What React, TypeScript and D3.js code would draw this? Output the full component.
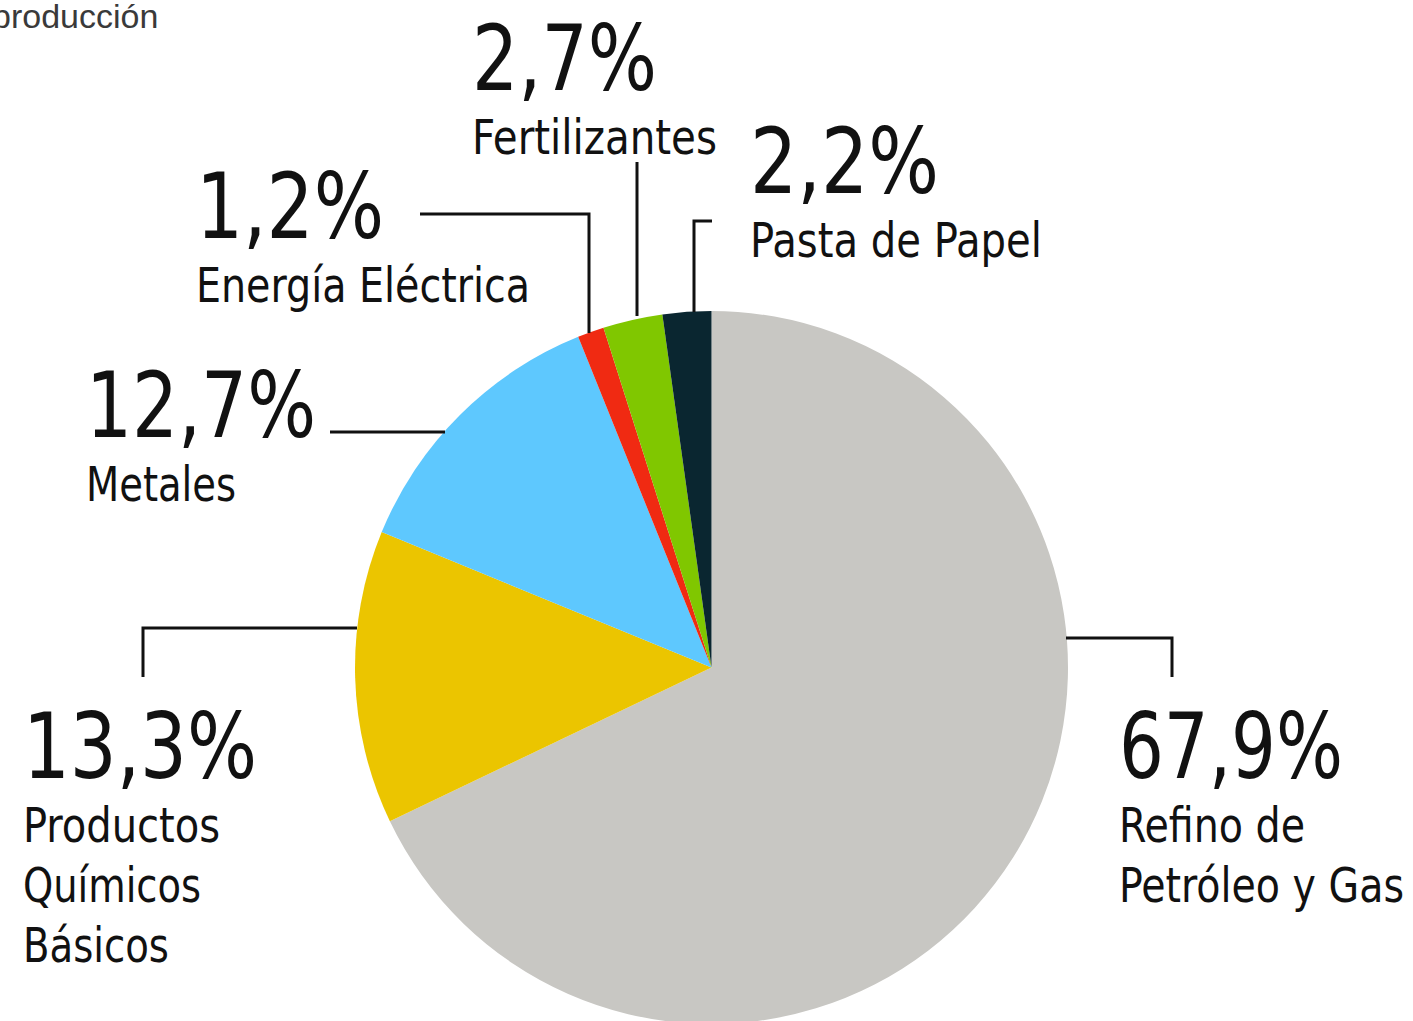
import React from "react";
import * as d3 from "d3";

const categories = [
  "Refino de Petróleo y Gas",
  "Productos Químicos Básicos",
  "Metales",
  "Energía Eléctrica",
  "Fertilizantes",
  "Pasta de Papel",
];
const values = [67.9, 13.3, 12.7, 1.2, 2.7, 2.2];
const percentLabels = ["67,9%", "13,3%", "12,7%", "1,2%", "2,7%", "2,2%"];
const nameLines = [
  ["Refino de", "Petróleo y Gas"],
  ["Productos", "Químicos", "Básicos"],
  ["Metales"],
  ["Energía Eléctrica"],
  ["Fertilizantes"],
  ["Pasta de Papel"],
];
const colors = ["#c8c7c3", "#ebc500", "#5ec8fe", "#f02a12", "#80c700", "#0a2630"];

// layout (positions of label blocks and leader lines)
const layout = [
  { x: 1119, y: 778, pctW: 224, nameW: [186, 285], leader: [[1066, 638], [1172, 638], [1172, 677]] },
  { x: 23, y: 778, pctW: 234, nameW: [197, 178, 146], leader: [[357, 628], [143, 628], [143, 677]] },
  { x: 86, y: 437, pctW: 230, nameW: [150], leader: [[445, 432], [330, 432]] },
  { x: 196, y: 238, pctW: 188, nameW: [334], leader: [[589, 333], [589, 214], [420, 214]] },
  { x: 472, y: 90, pctW: 185, nameW: [245], leader: [[637, 316], [637, 162]] },
  { x: 750, y: 193, pctW: 189, nameW: [292], leader: [[694, 312], [694, 221], [712, 221]] },
];

const FONT = "'DejaVu Sans Condensed', 'DejaVu Sans', sans-serif";

export default function App() {
  const W = 1413;
  const H = 1021;
  const cx = 711.5;
  const cy = 667.5;
  const r = 356.5;

  const pie = d3.pie<number>().sort(null).value((d) => d)(values);
  const arc = d3.arc<d3.PieArcDatum<number>>().innerRadius(0).outerRadius(r);
  const line = d3.line();

  return (
    <svg
      width={W}
      height={H}
      style={{ position: "absolute", left: 0, top: 0, background: "#fff" }}
    >
      <text
        x={-8}
        y={28}
        fontFamily="'Liberation Sans', Arial, sans-serif"
        fontSize={34}
        fill="#3a3a3a"
      >
        producción
      </text>
      <g transform={`translate(${cx},${cy})`}>
        {pie.map((p, i) => (
          <path key={categories[i]} d={arc(p) || ""} fill={colors[i]} />
        ))}
      </g>
      {layout.map((l, i) => (
        <path
          key={"lead" + i}
          d={line(l.leader as [number, number][]) || ""}
          fill="none"
          stroke="#111"
          strokeWidth={3}
        />
      ))}
      {layout.map((l, i) => (
        <g key={"lab" + i} fontFamily={FONT} fill="#111">
          <text
            x={l.x}
            y={l.y}
            fontSize={90}
            textLength={l.pctW}
            lengthAdjust="spacingAndGlyphs"
          >
            {percentLabels[i]}
          </text>
          {nameLines[i].map((s, j) => (
            <text
              key={j}
              x={l.x}
              y={l.y + 64 + j * 60}
              fontSize={48}
              textLength={l.nameW[j]}
              lengthAdjust="spacingAndGlyphs"
            >
              {s}
            </text>
          ))}
        </g>
      ))}
    </svg>
  );
}
